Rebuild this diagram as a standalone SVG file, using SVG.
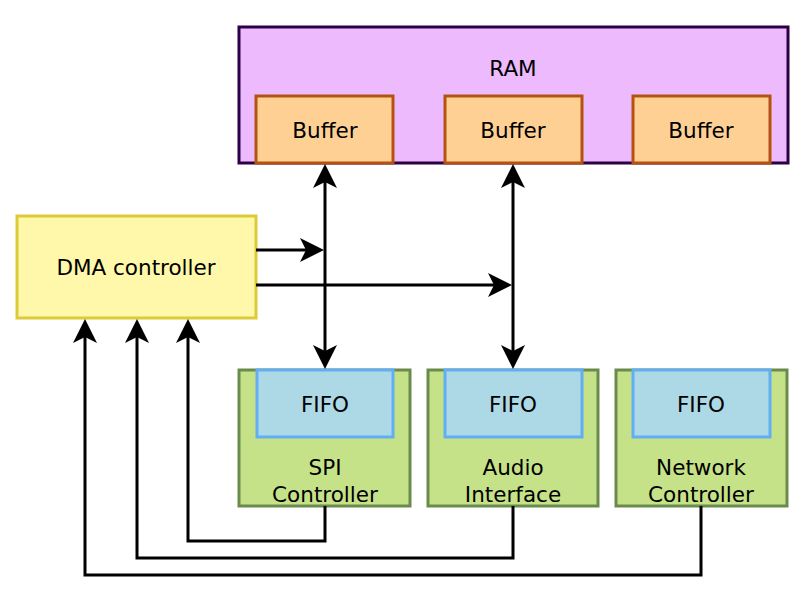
<svg xmlns="http://www.w3.org/2000/svg" width="805" height="589" viewBox="0 0 805 589">
<style>
text{font-family:"DejaVu Sans","Liberation Sans",sans-serif;font-size:21.5px;fill:#000;text-anchor:middle}
.ram{fill:#edbbfd;stroke:#2d0045;stroke-width:3}
.buf{fill:#ffd093;stroke:#b4520f;stroke-width:3}
.dma{fill:#fff7a9;stroke:#dccb38;stroke-width:3}
.ctl{fill:#c6e288;stroke:#6a8b4d;stroke-width:3}
.fifo{fill:#add8e6;stroke:#62aef4;stroke-width:3}
.c{fill:none;stroke:#000;stroke-width:3}
.a{marker-end:url(#ah)}
.b{marker-start:url(#ah);marker-end:url(#ah)}
</style>
<defs>
<marker id="ah" markerUnits="userSpaceOnUse" markerWidth="30" markerHeight="30" refX="0" refY="0" orient="auto-start-reverse" overflow="visible">
<path d="M8,0 L-16,-12 L-10,0 L-16,12 Z" fill="#000"/>
</marker>
</defs>
<g id="ram">
<rect class="ram" x="239" y="27" width="549" height="136"/>
<text x="513" y="76">RAM</text>
</g>
<g id="buffer1">
<rect class="buf" x="256" y="96" width="137" height="67"/>
<text x="325" y="138">Buffer</text>
</g>
<g id="buffer2">
<rect class="buf" x="445" y="96" width="137" height="67"/>
<text x="513" y="138">Buffer</text>
</g>
<g id="buffer3">
<rect class="buf" x="633" y="96" width="137" height="67"/>
<text x="701" y="138">Buffer</text>
</g>
<g id="dma">
<rect class="dma" x="17" y="216" width="239" height="102"/>
<text x="136" y="275">DMA controller</text>
</g>
<g id="spi">
<rect class="ctl" x="239" y="370" width="171" height="136"/>
<text x="325" y="475">SPI</text>
<text x="325" y="502">Controller</text>
</g>
<g id="fifo1">
<rect class="fifo" x="257" y="370" width="136" height="67"/>
<text x="325" y="412">FIFO</text>
</g>
<g id="audio">
<rect class="ctl" x="428" y="370" width="170" height="136"/>
<text x="513" y="475">Audio</text>
<text x="513" y="502">Interface</text>
</g>
<g id="fifo2">
<rect class="fifo" x="445" y="370" width="137" height="67"/>
<text x="513" y="412">FIFO</text>
</g>
<g id="network">
<rect class="ctl" x="616" y="370" width="171" height="136"/>
<text x="701" y="475">Network</text>
<text x="701" y="502">Controller</text>
</g>
<g id="fifo3">
<rect class="fifo" x="633" y="370" width="137" height="67"/>
<text x="701" y="412">FIFO</text>
</g>
<g id="connectors">
<path class="c b" d="M325,172 L325,361"/>
<path class="c b" d="M513,172 L513,361"/>
<path class="c a" d="M256,250 L316,250"/>
<path class="c a" d="M256,285 L504,285"/>
<path class="c a" d="M325,506 L325,541 L188,541 L188,327"/>
<path class="c a" d="M513,506 L513,558 L137,558 L137,327"/>
<path class="c a" d="M701,506 L701,575 L85,575 L85,327"/>
</g>
</svg>
